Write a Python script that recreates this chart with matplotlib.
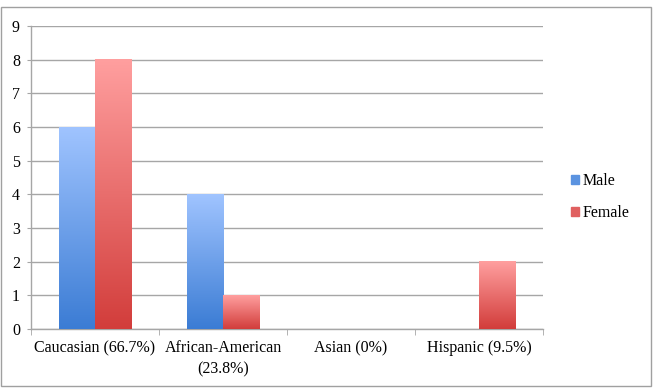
import numpy as np
import matplotlib
matplotlib.use("Agg")
import matplotlib.pyplot as plt
from matplotlib.colors import LinearSegmentedColormap
from matplotlib.patches import Rectangle

plt.rcParams["font.family"] = ["Liberation Serif", "DejaVu Serif"]

categories = ["Caucasian (66.7%)", "African-American\n(23.8%)", "Asian (0%)", "Hispanic (9.5%)"]
male = [6, 4, 0, 0]
female = [8, 1, 0, 2]

BLUE_TOP, BLUE_BOT = "#a0c4ff", "#3b7cd4"
RED_TOP, RED_BOT = "#ff9f9f", "#d23d3b"
GRID = "#a6a6a6"

fig = plt.figure(figsize=(6.55, 3.88), dpi=100)
ax = fig.add_axes([31 / 655, 1 - 329 / 388, (543 - 31) / 655, (329 - 26) / 388])

x = np.arange(len(categories))
w = 0.285
bars_m = ax.bar(x - w / 2, male, w, color=BLUE_BOT, label="Male", zorder=2)
bars_f = ax.bar(x + w / 2, female, w, color=RED_BOT, label="Female", zorder=2)

# vertical gradient fill for each bar
grad = np.linspace(1, 0, 256).reshape(-1, 1)
for bars, top, bot in [(bars_m, BLUE_TOP, BLUE_BOT), (bars_f, RED_TOP, RED_BOT)]:
    cmap = LinearSegmentedColormap.from_list("g", [bot, top])
    for b in bars:
        h = b.get_height()
        if h <= 0:
            continue
        x0 = b.get_x()
        ax.imshow(grad, cmap=cmap, aspect="auto", extent=(x0, x0 + b.get_width(), 0, h),
                  zorder=3, interpolation="bicubic")

ax.set_xlim(-0.5, len(categories) - 0.5)
ax.set_ylim(0, 9)
ax.set_yticks(range(10))
ax.yaxis.grid(True, color=GRID, lw=1.0, zorder=0)
ax.set_axisbelow(True)

ax.set_xticks(x)
ax.set_xticklabels(categories, fontsize=11.5, linespacing=1.45)
ax.set_xticks(np.arange(-0.5, len(categories)), minor=True)
ax.tick_params(axis="x", which="major", length=0, pad=8)
ax.tick_params(axis="x", which="minor", length=4, color=GRID, direction="out")
ax.tick_params(axis="y", length=3, color=GRID, direction="out", labelsize=11.5, pad=5)

for s in ["top", "right"]:
    ax.spines[s].set_visible(False)
for s in ["left", "bottom"]:
    ax.spines[s].set_color(GRID)
    ax.spines[s].set_linewidth(1.0)

fig.legend(handles=[Rectangle((0, 0), 1, 1, color="#5b93e0"), Rectangle((0, 0), 1, 1, color="#e06060")],
           labels=["Male", "Female"], loc="center left", bbox_to_anchor=(557 / 655, 1 - 197 / 388),
           frameon=False, fontsize=11.5, handlelength=0.5, handleheight=0.5,
           handletextpad=0.2, labelspacing=1.0)

fig.patches.append(Rectangle((1 / 655, 2 / 388), 650 / 655, 379 / 388, transform=fig.transFigure,
                             fill=False, edgecolor="#a0a0a0", lw=1.0))

fig.savefig("out.png", dpi=100)
